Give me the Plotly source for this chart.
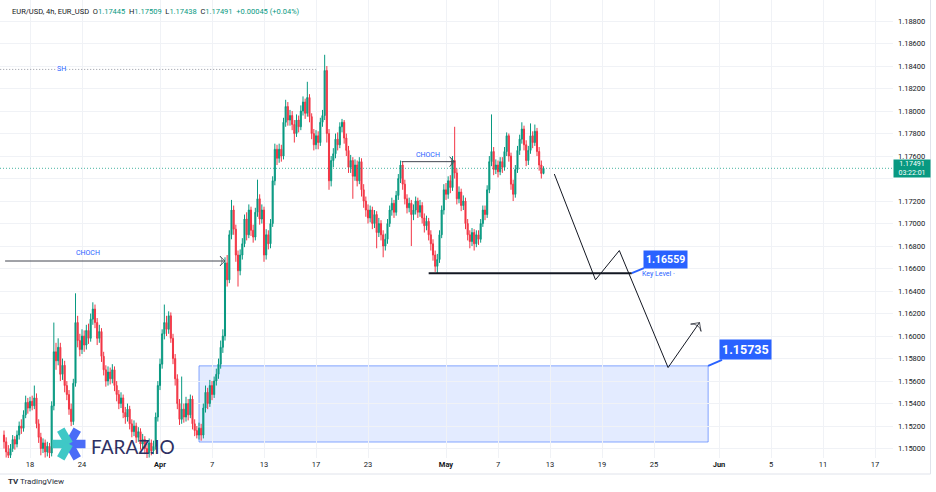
import math
import pandas as pd
import plotly.graph_objects as go

# ---------------- data (EUR/USD, 4h) ----------------
first_open = 1.1512
close = [
    1.1506, 1.1497, 1.1494, 1.1500, 1.1508, 1.1504,  # Mar 16
    1.1512, 1.1520, 1.1518, 1.1530, 1.1541, 1.1536,  # Mar 17
    1.1542, 1.1538, 1.1545, 1.1522, 1.1510, 1.1500,  # Mar 18
    1.1505, 1.1497, 1.1502, 1.1496, 1.1538, 1.1586,  # Mar 19
    1.1578, 1.1590, 1.1566, 1.1574, 1.1556, 1.1548,  # Mar 20
    1.1535, 1.1524, 1.1558, 1.1612, 1.1596, 1.1588,  # Mar 23
    1.1600, 1.1592, 1.1605, 1.1598, 1.1615, 1.1624,  # Mar 24
    1.1612, 1.1598, 1.1604, 1.1582, 1.1570, 1.1560,  # Mar 25
    1.1568, 1.1562, 1.1570, 1.1556, 1.1548, 1.1540,  # Mar 26
    1.1545, 1.1532, 1.1528, 1.1535, 1.1522, 1.1515,  # Mar 27
    1.1520, 1.1510, 1.1515, 1.1504, 1.1508, 1.1500,  # Mar 30
    1.1496, 1.1505, 1.1498, 1.1502, 1.1528, 1.1556,  # Mar 31
    1.1575, 1.1602, 1.1612, 1.1606, 1.1618, 1.1598,  # Apr 1
    1.1580, 1.1562, 1.1540, 1.1526, 1.1535, 1.1528,  # Apr 2
    1.1540, 1.1530, 1.1544, 1.1522, 1.1516, 1.1512,  # Apr 3
    1.1518, 1.1512, 1.1536, 1.1550, 1.1540, 1.1556,  # Apr 6
    1.1548, 1.1560, 1.1566, 1.1575, 1.1590, 1.1600,  # Apr 7
    1.1665, 1.1650, 1.1690, 1.1712, 1.1695, 1.1672,  # Apr 8
    1.1658, 1.1672, 1.1682, 1.1704, 1.1690, 1.1712,  # Apr 9
    1.1694, 1.1688, 1.1710, 1.1722, 1.1704, 1.1712,  # Apr 10
    1.1672, 1.1690, 1.1682, 1.1700, 1.1738, 1.1766,  # Apr 13
    1.1758, 1.1766, 1.1760, 1.1790, 1.1804, 1.1792,  # Apr 14
    1.1796, 1.1788, 1.1780, 1.1792, 1.1786, 1.1800,  # Apr 15
    1.1808, 1.1798, 1.1812, 1.1795, 1.1780, 1.1770,  # Apr 16
    1.1778, 1.1772, 1.1790, 1.1796, 1.1836, 1.1780,  # Apr 17
    1.1738, 1.1756, 1.1762, 1.1775, 1.1770, 1.1786,  # Apr 20
    1.1790, 1.1776, 1.1765, 1.1750, 1.1756, 1.1742,  # Apr 21
    1.1752, 1.1738, 1.1755, 1.1730, 1.1720, 1.1712,  # Apr 22
    1.1705, 1.1712, 1.1700, 1.1708, 1.1692, 1.1700,  # Apr 23
    1.1690, 1.1680, 1.1686, 1.1700, 1.1712, 1.1718,  # Apr 24
    1.1710, 1.1725, 1.1740, 1.1752, 1.1735, 1.1722,  # Apr 27
    1.1714, 1.1718, 1.1708, 1.1712, 1.1720, 1.1710,  # Apr 28
    1.1716, 1.1705, 1.1698, 1.1702, 1.1690, 1.1682,  # Apr 29
    1.1672, 1.1662, 1.1668, 1.1690, 1.1712, 1.1730,  # Apr 30
    1.1726, 1.1738, 1.1732, 1.1756, 1.1745, 1.1722,  # May 1
    1.1728, 1.1716, 1.1720, 1.1700, 1.1690, 1.1684,  # May 4
    1.1692, 1.1682, 1.1690, 1.1686, 1.1700, 1.1712,  # May 5
    1.1708, 1.1730, 1.1755, 1.1764, 1.1748, 1.1752,  # May 6
    1.1746, 1.1755, 1.1750, 1.1764, 1.1778, 1.1760,  # May 7
    1.1735, 1.1726, 1.1748, 1.1765, 1.1775, 1.1784,  # May 8
    1.1770, 1.1756, 1.1765, 1.1778, 1.1772, 1.1782,  # May 11
    1.1764, 1.1752, 1.17445, 1.17491,                # May 12
]
high = [
    1.1516, 1.1510, 1.1503, 1.1504, 1.1512, 1.1511,
    1.1516, 1.1524, 1.1526, 1.1534, 1.1547, 1.1545,
    1.1546, 1.1547, 1.1556, 1.1549, 1.1526, 1.1514,
    1.1509, 1.1508, 1.1506, 1.1505, 1.1542, 1.1612,
    1.1594, 1.1598, 1.1594, 1.1580, 1.1578, 1.1560,
    1.1552, 1.1540, 1.1562, 1.1638, 1.1618, 1.1602,
    1.1606, 1.1605, 1.1610, 1.1611, 1.1620, 1.1630,
    1.1628, 1.1616, 1.1610, 1.1607, 1.1586, 1.1574,
    1.1573, 1.1572, 1.1575, 1.1573, 1.1560, 1.1552,
    1.1550, 1.1548, 1.1537, 1.1540, 1.1538, 1.1526,
    1.1525, 1.1523, 1.1519, 1.1518, 1.1513, 1.1511,
    1.1504, 1.1509, 1.1508, 1.1507, 1.1532, 1.1560,
    1.1580, 1.1606, 1.1628, 1.1618, 1.1622, 1.1621,
    1.1602, 1.1584, 1.1566, 1.1544, 1.1564, 1.1540,
    1.1546, 1.1544, 1.1548, 1.1547, 1.1526, 1.1520,
    1.1523, 1.1522, 1.1540, 1.1556, 1.1554, 1.1561,
    1.1560, 1.1564, 1.1571, 1.1580, 1.1596, 1.1606,
    1.1670, 1.1672, 1.1694, 1.1721, 1.1716, 1.1699,
    1.1676, 1.1677, 1.1687, 1.1708, 1.1710, 1.1717,
    1.1715, 1.1699, 1.1714, 1.1739, 1.1726, 1.1717,
    1.1715, 1.1695, 1.1694, 1.1704, 1.1742, 1.1771,
    1.1770, 1.1771, 1.1770, 1.1794, 1.1810, 1.1808,
    1.1801, 1.1800, 1.1792, 1.1797, 1.1796, 1.1805,
    1.1813, 1.1811, 1.1826, 1.1815, 1.1798, 1.1784,
    1.1783, 1.1782, 1.1794, 1.1801, 1.1850, 1.1840,
    1.1784, 1.1760, 1.1767, 1.1780, 1.1781, 1.1790,
    1.1793, 1.1792, 1.1780, 1.1769, 1.1761, 1.1759,
    1.1757, 1.1756, 1.1759, 1.1758, 1.1735, 1.1724,
    1.1717, 1.1716, 1.1715, 1.1712, 1.1711, 1.1705,
    1.1703, 1.1694, 1.1691, 1.1704, 1.1716, 1.1723,
    1.1721, 1.1729, 1.1744, 1.1756, 1.1755, 1.1739,
    1.1726, 1.1723, 1.1721, 1.1717, 1.1724, 1.1723,
    1.1721, 1.1719, 1.1709, 1.1707, 1.1705, 1.1694,
    1.1686, 1.1676, 1.1673, 1.1694, 1.1716, 1.1735,
    1.1736, 1.1742, 1.1743, 1.1760, 1.1786, 1.1749,
    1.1733, 1.1731, 1.1725, 1.1723, 1.1704, 1.1694,
    1.1696, 1.1695, 1.1694, 1.1694, 1.1704, 1.1716,
    1.1716, 1.1734, 1.1760, 1.1797, 1.1768, 1.1757,
    1.1756, 1.1759, 1.1759, 1.1768, 1.1781, 1.1780,
    1.1763, 1.1739, 1.1752, 1.1769, 1.1779, 1.1790,
    1.1787, 1.1774, 1.1769, 1.1789, 1.1782, 1.1788,
    1.1785, 1.1768, 1.1756, 1.17509,
]
low = [
    1.1500, 1.1492, 1.1489, 1.1490, 1.1497, 1.1499,
    1.1501, 1.1508, 1.1513, 1.1515, 1.1527, 1.1531,
    1.1533, 1.1534, 1.1535, 1.1518, 1.1505, 1.1494,
    1.1496, 1.1492, 1.1493, 1.1490, 1.1493, 1.1534,
    1.1570, 1.1574, 1.1560, 1.1561, 1.1550, 1.1543,
    1.1530, 1.1520, 1.1521, 1.1555, 1.1590, 1.1582,
    1.1584, 1.1586, 1.1588, 1.1593, 1.1595, 1.1610,
    1.1607, 1.1592, 1.1594, 1.1577, 1.1565, 1.1555,
    1.1556, 1.1557, 1.1558, 1.1551, 1.1542, 1.1535,
    1.1536, 1.1527, 1.1522, 1.1524, 1.1517, 1.1510,
    1.1511, 1.1505, 1.1506, 1.1499, 1.1500, 1.1495,
    1.1490, 1.1492, 1.1494, 1.1495, 1.1499, 1.1524,
    1.1552, 1.1571, 1.1597, 1.1600, 1.1602, 1.1594,
    1.1575, 1.1556, 1.1535, 1.1521, 1.1522, 1.1523,
    1.1524, 1.1525, 1.1527, 1.1517, 1.1511, 1.1509,
    1.1508, 1.1507, 1.1509, 1.1532, 1.1535, 1.1537,
    1.1543, 1.1545, 1.1556, 1.1562, 1.1571, 1.1585,
    1.1596, 1.1644, 1.1647, 1.1686, 1.1690, 1.1666,
    1.1644, 1.1654, 1.1668, 1.1679, 1.1685, 1.1687,
    1.1689, 1.1683, 1.1685, 1.1706, 1.1699, 1.1700,
    1.1666, 1.1668, 1.1677, 1.1678, 1.1697, 1.1734,
    1.1752, 1.1754, 1.1755, 1.1757, 1.1786, 1.1787,
    1.1787, 1.1783, 1.1772, 1.1777, 1.1781, 1.1783,
    1.1796, 1.1793, 1.1795, 1.1790, 1.1775, 1.1765,
    1.1766, 1.1766, 1.1769, 1.1786, 1.1792, 1.1772,
    1.1730, 1.1733, 1.1750, 1.1758, 1.1765, 1.1767,
    1.1781, 1.1771, 1.1760, 1.1745, 1.1745, 1.1722,
    1.1738, 1.1733, 1.1735, 1.1724, 1.1714, 1.1706,
    1.1700, 1.1701, 1.1695, 1.1696, 1.1678, 1.1688,
    1.1685, 1.1670, 1.1676, 1.1682, 1.1697, 1.1707,
    1.1705, 1.1707, 1.1721, 1.1736, 1.1730, 1.1717,
    1.1709, 1.1710, 1.1680, 1.1703, 1.1708, 1.1705,
    1.1706, 1.1700, 1.1692, 1.1694, 1.1685, 1.1676,
    1.1667, 1.1657, 1.1656, 1.1665, 1.1687, 1.1708,
    1.1721, 1.1722, 1.1727, 1.1729, 1.1740, 1.1717,
    1.1718, 1.1711, 1.1712, 1.1695, 1.1685, 1.1678,
    1.1680, 1.1676, 1.1679, 1.1681, 1.1683, 1.1697,
    1.1703, 1.1705, 1.1727, 1.1751, 1.1743, 1.1744,
    1.1741, 1.1743, 1.1745, 1.1747, 1.1760, 1.1755,
    1.1730, 1.1720, 1.1723, 1.1745, 1.1761, 1.1771,
    1.1765, 1.1751, 1.1752, 1.1762, 1.1767, 1.1769,
    1.1760, 1.1747, 1.1740, 1.17438,
]
last_price = 1.17491
countdown = "03:22:01"
header_ohlc = ["1.17445", "1.17509", "1.17438", "1.17491"]
header_change = "+0.00045 (+0.04%)"

price_ticks = [1.150, 1.152, 1.154, 1.156, 1.158, 1.160, 1.162, 1.164, 1.166, 1.168,
               1.170, 1.172, 1.174, 1.176, 1.178, 1.180, 1.182, 1.184, 1.186, 1.188]
hidden_tick = 1.174   # covered by the last-price label in the reference

tick_dates = ["2026-03-18", "2026-03-24", "2026-04-01", "2026-04-07", "2026-04-13",
              "2026-04-17", "2026-04-23", "2026-05-01", "2026-05-07", "2026-05-13",
              "2026-05-19", "2026-05-25", "2026-06-01", "2026-06-05", "2026-06-11",
              "2026-06-17"]
tick_text = ["18", "24", "<b>Apr</b>", "7", "13", "17", "23", "<b>May</b>", "7", "13",
             "19", "25", "<b>Jun</b>", "5", "11", "17"]

# drawings
sh_time = ["2026-03-13 17:00", "2026-04-17 04:00"]
sh_price = 1.1837
choch1_time = ["2026-03-16 02:00", "2026-04-08 00:00"]
choch1_price = 1.16667
choch2_time = ["2026-04-27 14:00", "2026-05-01 16:00"]
choch2_price = 1.1755
key_time = ["2026-04-29 16:00", "2026-05-21 07:00"]
key_price = 1.16559
zone_time = ["2026-04-06 00:00", "2026-05-29 04:00"]
zone_price = [1.15058, 1.15735]
proj_time = ["2026-05-13 08:00", "2026-05-18 12:00", "2026-05-20 08:00",
             "2026-05-26 02:00", "2026-05-28 12:00"]
proj_price = [1.1744, 1.1650, 1.1676, 1.1572, 1.1612]

# ---------------- build ----------------
days = pd.bdate_range("2026-03-16", "2026-05-12")
times = [d + pd.Timedelta(hours=h) for d in days for h in range(0, 24, 4)][:len(close)]
open_ = [first_open] + close[:-1]

UP, DOWN = "#089981", "#f23645"
BLUE = "#2962ff"
INK = "#131722"
FONT = "Roboto"
W, H = 936, 492
PW, PH = 893, 458   # plot area in pixels (l=0, t=0)


def px(x):
    return x / PW


def py(y):
    return 1 - y / PH


fig = go.Figure()
fig.add_trace(go.Candlestick(
    x=times, open=open_, high=high, low=low, close=close,
    increasing=dict(line=dict(color=UP, width=1), fillcolor=UP),
    decreasing=dict(line=dict(color=DOWN, width=1), fillcolor=DOWN),
    whiskerwidth=0, hoverinfo="skip", showlegend=False,
))


def line_trace(xs, ys, color, width, dash="solid", arrow=False, asize=8):
    n = len(xs)
    marker = dict(size=0)
    mode = "lines"
    if arrow:
        mode = "lines+markers"
        marker = dict(symbol=["circle"] * (n - 1) + ["arrow-wide-open"],
                      size=[0] * (n - 1) + [asize], angleref="previous",
                      color=color, line=dict(color=color, width=1))
    fig.add_trace(go.Scatter(x=xs, y=ys, mode=mode, marker=marker,
                             line=dict(color=color, width=width, dash=dash),
                             hoverinfo="skip", showlegend=False))


line_trace(sh_time, [sh_price] * 2, "#9598a1", 1, dash="1px,2px")
line_trace(choch1_time, [choch1_price] * 2, "#434651", 1, arrow=True, asize=7)
line_trace(choch2_time, [choch2_price] * 2, "#434651", 1, arrow=True, asize=7)
line_trace(key_time, [key_price] * 2, INK, 2)
line_trace(proj_time, proj_price, INK, 1, arrow=True, asize=9)

shapes = []
# demand zone box
shapes.append(dict(type="rect", xref="x", yref="y", x0=zone_time[0], x1=zone_time[1],
                   y0=zone_price[0], y1=zone_price[1], layer="below",
                   fillcolor="rgba(41,98,255,0.13)", line=dict(color="rgba(41,98,255,0.55)", width=1)))
# last price line
shapes.append(dict(type="line", xref="paper", yref="y", x0=0, x1=1, y0=last_price, y1=last_price,
                   line=dict(color="rgba(8,153,129,0.75)", width=1, dash="1px,2px")))
# outer frame
shapes.append(dict(type="line", xref="paper", yref="paper", x0=px(930.5), x1=px(930.5),
                   y0=py(0), y1=py(474), line=dict(color="#e0e3eb", width=1)))
shapes.append(dict(type="line", xref="paper", yref="paper", x0=px(0), x1=px(930.5),
                   y0=py(474), y1=py(474), line=dict(color="#e0e3eb", width=1)))

# logo asterisk
cx, cy, L, Wd = 69, 444, 16.5, 8.5
for ang, col in [(0, "#4a6cf7"), (60, "#4a6cf7"), (300, "#4a6cf7"),
                 (120, "#3fc8c6"), (180, "#3fc8c6"), (240, "#3fc8c6")]:
    a = math.radians(ang)
    dx, dy = math.cos(a), -math.sin(a)
    nx, ny = -dy, dx
    pts = [(cx + nx * Wd / 2, cy + ny * Wd / 2),
           (cx + dx * L + nx * Wd / 2, cy + dy * L + ny * Wd / 2),
           (cx + dx * L - nx * Wd / 2, cy + dy * L - ny * Wd / 2),
           (cx - nx * Wd / 2, cy - ny * Wd / 2)]
    path = "M " + " L ".join(f"{px(x):.5f},{py(y):.5f}" for x, y in pts) + " Z"
    shapes.append(dict(type="path", xref="paper", yref="paper", path=path,
                       fillcolor=col, line=dict(width=0), layer="above"))

ann = []
g = lambda s: f"<span style='color:{UP}'>{s}</span>"
sp = "\u00a0"
header = (f"EUR/USD, 4h, EUR_USD{sp}{sp}O{g(header_ohlc[0])}{sp}{sp}H{g(header_ohlc[1])}"
          f"{sp}{sp}L{g(header_ohlc[2])}{sp}{sp}C{g(header_ohlc[3])}{sp}{sp}{g(header_change)}")
ann.append(dict(xref="paper", yref="paper", x=px(10), y=py(11), text=header, showarrow=False,
                xanchor="left", yanchor="middle", font=dict(size=7.5, color=INK, family=FONT)))
# right price label
ann.append(dict(xref="paper", yref="y", x=1, y=last_price, xanchor="left", yanchor="middle",
                text=f"{last_price:.5f}<br>{countdown}", showarrow=False, bgcolor=UP,
                width=36, height=17, borderpad=0, align="center",
                font=dict(size=7, color="white", family=FONT), xshift=0))
# labels
ann.append(dict(x="2026-03-20 11:00", y=sh_price, text="SH", showarrow=False, bgcolor="white",
                font=dict(size=7, color=BLUE, family=FONT), borderpad=0))
ann.append(dict(x="2026-03-24 11:00", y=choch1_price, text="CHOCH", showarrow=False,
                yanchor="bottom", yshift=2, font=dict(size=7, color=BLUE, family=FONT)))
ann.append(dict(x="2026-04-29 14:00", y=choch2_price, text="CHOCH", showarrow=False,
                yanchor="bottom", yshift=1, font=dict(size=7, color=BLUE, family=FONT)))
ann.append(dict(x=key_time[1], y=key_price, text="Key Level ·", showarrow=False,
                xanchor="left", yanchor="middle", xshift=8, yshift=-0.5,
                font=dict(size=7, color=BLUE, family=FONT)))
ann.append(dict(x=key_time[1], y=key_price, text=f"<b>{key_price:.5f}</b>", showarrow=True,
                arrowhead=0, arrowwidth=2, arrowcolor=BLUE, ax=34, ay=-14, standoff=0,
                bgcolor=BLUE, borderpad=2, font=dict(size=10.5, color="white", family=FONT)))
ann.append(dict(x=zone_time[1], y=zone_price[1], text=f"<b>{zone_price[1]:.5f}</b>", showarrow=True,
                arrowhead=0, arrowwidth=2, arrowcolor=BLUE, ax=37, ay=-16, standoff=0,
                bgcolor=BLUE, borderpad=2, font=dict(size=12.5, color="white", family=FONT)))
# logo text
ann.append(dict(xref="paper", yref="paper", x=px(89), y=py(446), text="FARAZ.IO", showarrow=False,
                xanchor="left", yanchor="middle", font=dict(size=19, color="#2e3163", family="Lato")))
# footer
ann.append(dict(xref="paper", yref="paper", x=px(6), y=py(482), showarrow=False,
                xanchor="left", yanchor="middle",
                text="<b>TV</b> TradingView", font=dict(size=8, color="#2a2e39", family=FONT)))

fig.update_layout(
    width=W, height=H, margin=dict(l=0, r=W - PW, t=0, b=H - PH),
    paper_bgcolor="white", plot_bgcolor="white",
    shapes=shapes, annotations=ann, showlegend=False,
    font=dict(family=FONT, color=INK),
    xaxis=dict(
        type="date", range=["2026-03-13 16:37", "2026-06-18 09:14"],
        rangebreaks=[dict(pattern="day of week", bounds=[6, 1])],
        rangeslider=dict(visible=False),
        tickmode="array", tickvals=tick_dates, ticktext=tick_text,
        showgrid=True, gridcolor="#f0f2f6", gridwidth=1,
        zeroline=False, showline=False, ticks="",
        tickfont=dict(size=7.5, color=INK, family=FONT), fixedrange=True,
    ),
    yaxis=dict(
        side="right", range=[1.14916, 1.18987],
        tickmode="array", tickvals=price_ticks,
        ticktext=["" if abs(v - hidden_tick) < 1e-9 else f"{v:.5f}" for v in price_ticks],
        showgrid=True, gridcolor="#f0f2f6", gridwidth=1,
        zeroline=False, showline=False, ticks="", ticklabelstandoff=4,
        tickfont=dict(size=7.5, color=INK, family=FONT), fixedrange=True,
    ),
)

fig.write_html("out.html", config={"displayModeBar": False})
